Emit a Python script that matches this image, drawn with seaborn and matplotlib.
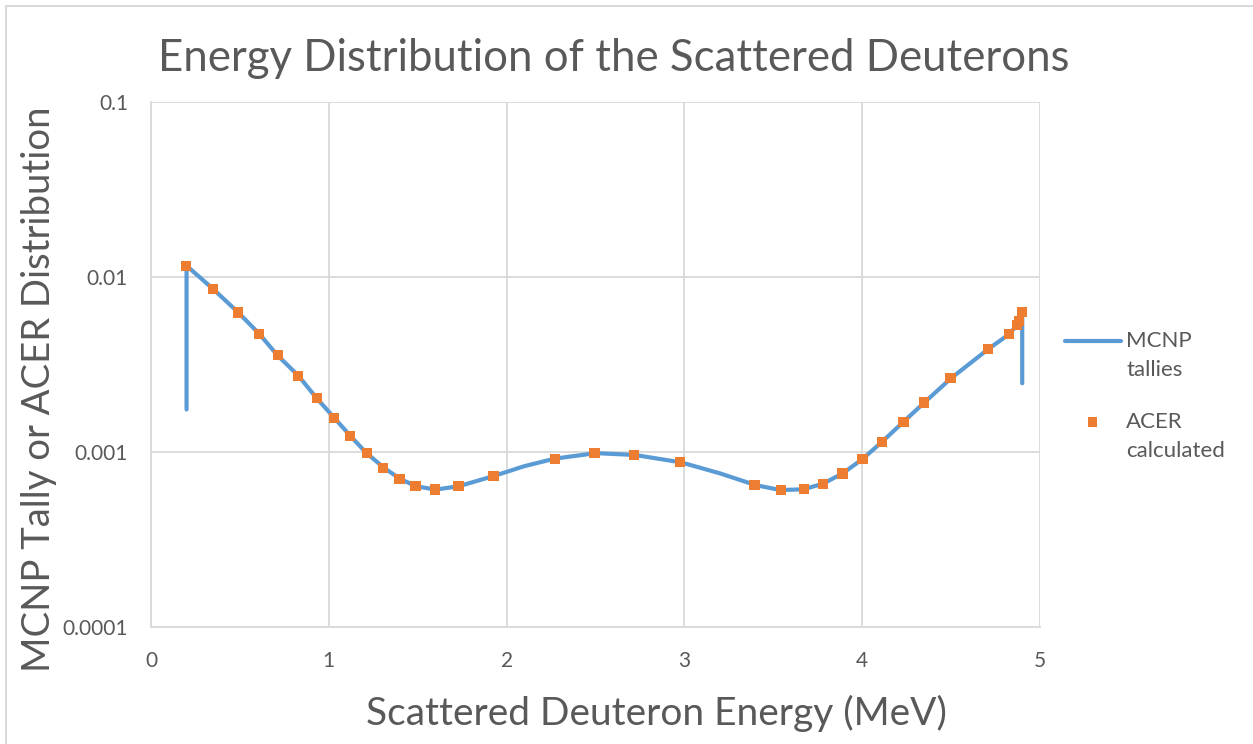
import numpy as np
import matplotlib
matplotlib.use("Agg")
import matplotlib.pyplot as plt
import seaborn as sns
import pandas as pd
from matplotlib.lines import Line2D
from matplotlib.ticker import FixedLocator, NullFormatter, LogLocator

# MCNP tallies (line)
mcnp_e = [0.20, 0.20, 0.35, 0.49, 0.61, 0.71, 0.83, 0.93, 1.03, 1.12, 1.21, 1.31, 1.40,
          1.49, 1.60, 1.73, 1.93, 2.10, 2.27, 2.50, 2.72, 2.98, 3.20, 3.40, 3.54, 3.67,
          3.78, 3.89, 4.00, 4.11, 4.23, 4.35, 4.50, 4.71, 4.83, 4.87, 4.88, 4.90, 4.90]
mcnp_v = [0.00175, 0.0116, 0.00853, 0.00628, 0.00472, 0.00358, 0.00272, 0.00204, 0.00157,
          0.00124, 0.00099, 0.000813, 0.000703, 0.000637, 0.000610, 0.000637, 0.000730,
          0.00083, 0.000916, 0.000985, 0.000962, 0.000873, 0.000755, 0.000647, 0.000606,
          0.000612, 0.000659, 0.000755, 0.000908, 0.00114, 0.00148, 0.00192, 0.00264,
          0.00388, 0.00474, 0.00532, 0.00562, 0.00631, 0.00247]

# ACER calculated (markers)
acer_e = [0.197, 0.350, 0.488, 0.609, 0.714, 0.827, 0.934, 1.031, 1.121, 1.213, 1.305,
          1.397, 1.487, 1.599, 1.729, 1.927, 2.274, 2.495, 2.715, 2.975, 3.395, 3.543,
          3.671, 3.780, 3.890, 4.001, 4.111, 4.233, 4.349, 4.496, 4.709, 4.826, 4.869,
          4.882, 4.899]
acer_v = [0.01156, 0.00853, 0.00628, 0.00472, 0.00358, 0.00272, 0.00204, 0.00157, 0.00124,
          0.00099, 0.000813, 0.000703, 0.000637, 0.000610, 0.000637, 0.000730, 0.000916,
          0.000985, 0.000962, 0.000873, 0.000647, 0.000606, 0.000612, 0.000659, 0.000755,
          0.000908, 0.00114, 0.00148, 0.00192, 0.00264, 0.00388, 0.00474, 0.00532,
          0.00562, 0.00631]

x_ticks = [0, 1, 2, 3, 4, 5]
y_ticks = [0.0001, 0.001, 0.01, 0.1]
y_labels = ["0.0001", "0.001", "0.01", "0.1"]

sns.set_style("white")
plt.rcParams['font.family'] = ['Lato', 'DejaVu Sans']
txt = '#595959'
grid = '#d9d9d9'

fig = plt.figure(figsize=(12.53, 7.44), dpi=100)
ax = fig.add_axes([151/1253, 1-627/744, (1040-151)/1253, (627-102)/744])

line_df = pd.DataFrame({"e": mcnp_e, "v": mcnp_v})
acer_df = pd.DataFrame({"e": acer_e, "v": acer_v})
sns.lineplot(data=line_df, x="e", y="v", sort=False, estimator=None, ax=ax,
             color='#5B9BD5', linewidth=3, label="MCNP\ntallies", zorder=3)
sns.scatterplot(data=acer_df, x="e", y="v", ax=ax, color='#ED7D31', marker='s',
                s=55, edgecolor='none', label="ACER\ncalculated", zorder=4)

ax.set_yscale('log')
ax.set_xlim(0, 5)
ax.set_ylim(0.0001, 0.1)
ax.set_xticks(x_ticks)
ax.set_xticklabels([str(t) for t in x_ticks])
ax.yaxis.set_major_locator(FixedLocator(y_ticks))
ax.set_yticklabels(y_labels)
ax.yaxis.set_minor_locator(LogLocator(base=10, subs=np.arange(2, 10)))
ax.yaxis.set_minor_formatter(NullFormatter())
ax.set_xticks(np.arange(0, 5.01, 0.2), minor=True)

ax.grid(True, which='major', color=grid, linewidth=1.3)
for s in ['top', 'right']:
    ax.spines[s].set_visible(False)
for s in ['left', 'bottom']:
    ax.spines[s].set_color(grid)
    ax.spines[s].set_linewidth(1.3)
ax.tick_params(which='major', length=0, labelsize=15, labelcolor=txt, pad=17)
ax.tick_params(which='minor', direction='in', length=5, color=grid, width=1.1)
ax.tick_params(axis='y', which='major', direction='in', length=5, color=grid, pad=16.5)

ax.set_title("Energy Distribution of the Scattered Deuterons", fontsize=31.5, color=txt,
             pad=22, x=(614-151)/889)
ax.set_xlabel("Scattered Deuteron Energy (MeV)", fontsize=28, color=txt)
ax.xaxis.set_label_coords((656-151)/889, -0.129)
ax.set_ylabel("MCNP Tally or ACER Distribution", fontsize=27.5, color=txt)
ax.yaxis.set_label_coords(-0.106, (627-389)/525)

leg = ax.legend(loc='upper left', bbox_to_anchor=((1065-151)/889, (627-331)/525),
                frameon=False, borderpad=0, borderaxespad=0, fontsize=16, labelcolor=txt,
                handlelength=2.5, handletextpad=0.25, labelspacing=1.45, markerscale=0.9)
for t in leg.get_texts():
    t.set_linespacing(1.55)

# put each legend key level with the first line of its label
fig.canvas.draw()
r = fig.canvas.get_renderer()
for h, t in zip(leg.legend_handles, leg.get_texts()):
    bb = t.get_window_extent(r)
    target = bb.y1 - 10
    if isinstance(h, Line2D):
        cur = h.get_transform().transform(np.column_stack([h.get_xdata(), h.get_ydata()]))[:, 1].mean()
        h.set_ydata(np.asarray(h.get_ydata()) + (target - cur) * 72 / fig.dpi)
    else:
        offs = np.asarray(h.get_offsets())
        cur = h.get_offset_transform().transform(offs)[:, 1].mean()
        offs[:, 1] += (target - cur) * 72 / fig.dpi
        h.set_offsets(offs)

fig.patches.append(plt.Rectangle((6/1253, -0.1), 1.2, 1-6/744+0.1, transform=fig.transFigure,
                                 fill=False, edgecolor=grid, linewidth=1.5))

fig.savefig("out.png", dpi=100)
